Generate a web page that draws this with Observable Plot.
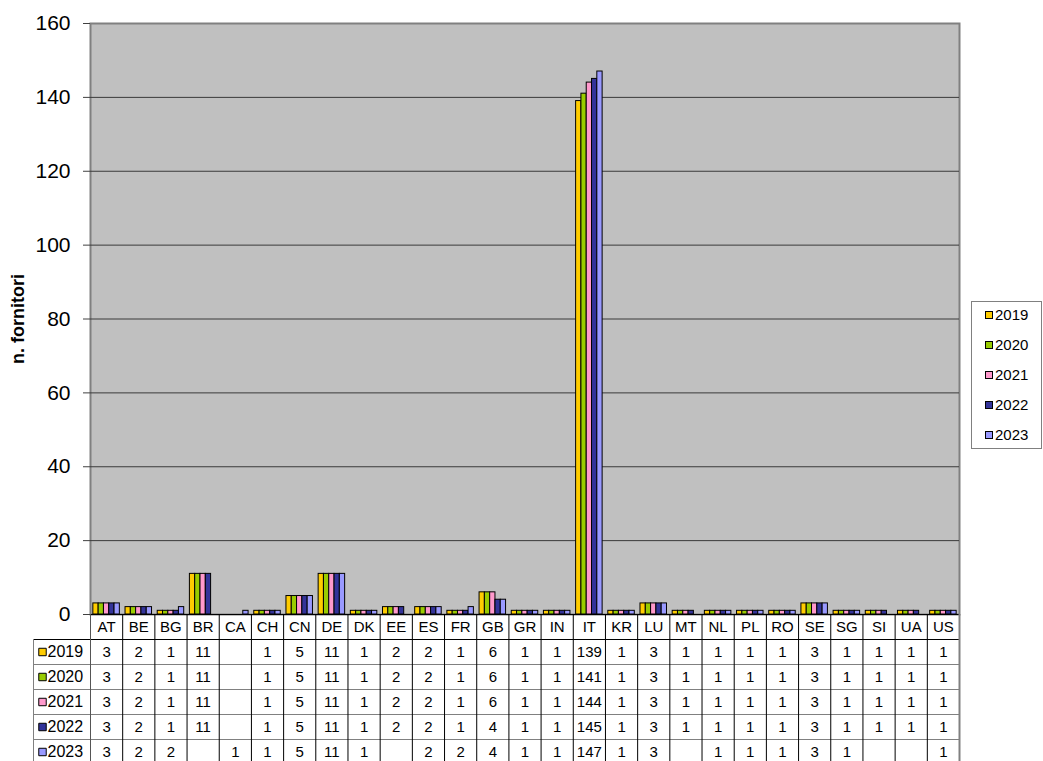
<!DOCTYPE html>
<html>
<head>
<meta charset="utf-8">
<script src="https://cdn.jsdelivr.net/npm/d3@7"></script>
<script src="https://cdn.jsdelivr.net/npm/@observablehq/plot@0.6"></script>
<style>
  body { margin: 0; background: #fff; font-family: "Liberation Sans", Arial, sans-serif; }
  #chart { position: relative; width: 1043px; height: 761px; overflow: hidden; background: #fff; }
  #chart svg { position: absolute; left: 0; }
  .legend { position: absolute; left: 971px; top: 301px; width: 71px; height: 148px;
            border: 1px solid #808080; box-sizing: border-box; background: #fff; }
  .legend .item { position: absolute; left: 13px; font-size: 15px; line-height: 16px;
                  display: flex; align-items: center; color: #000; }
  .legend .sw { width: 6px; height: 6px; border: 1px solid #000; margin-right: 2px; }
</style>
</head>
<body>
<div id="chart"></div>
<script>
// Suppliers ("fornitori") per country, 2019–2023
const countries = ["AT","BE","BG","BR","CA","CH","CN","DE","DK","EE","ES","FR","GB","GR","IN","IT","KR","LU","MT","NL","PL","RO","SE","SG","SI","UA","US"];
const years = ["2019", "2020", "2021", "2022", "2023"];
const s2019 = [3,2,1,11,null,1,5,11,1,2,2,1,6,1,1,139,1,3,1,1,1,1,3,1,1,1,1];
const s2020 = [3,2,1,11,null,1,5,11,1,2,2,1,6,1,1,141,1,3,1,1,1,1,3,1,1,1,1];
const s2021 = [3,2,1,11,null,1,5,11,1,2,2,1,6,1,1,144,1,3,1,1,1,1,3,1,1,1,1];
const s2022 = [3,2,1,11,null,1,5,11,1,2,2,1,4,1,1,145,1,3,1,1,1,1,3,1,1,1,1];
const s2023 = [3,2,2,null,1,1,5,11,1,null,2,2,4,1,1,147,1,3,null,1,1,1,3,1,null,null,1];
const yTicks = [0, 20, 40, 60, 80, 100, 120, 140, 160];
const colors = ["#FFCC00", "#99CC00", "#FF99CC", "#333399", "#9999FF"];

const series = [s2019, s2020, s2021, s2022, s2023];
const rows = years.flatMap((year, k) =>
  countries.map((country, i) => ({country, idx: i, year, k, value: series[k][i]})));

const FONT = "Liberation Sans, Arial, sans-serif";
const W = 1043, ML = 90, MR = 84;
const bw = (W - ML - MR) / countries.length;   // column width
const groupW = 26.5, barW = groupW / years.length, off0 = (bw - groupW) / 2;
const chart = document.getElementById("chart");

// Column chart
const columnsPlot = Plot.plot({
  width: W, height: 630,
  marginTop: 23, marginBottom: 16, marginLeft: ML, marginRight: MR,
  style: {fontFamily: FONT, background: "transparent", color: "#000"},
  x: {type: "band", domain: countries, padding: 0, round: false, axis: null},
  y: {domain: [0, 160]},
  marks: [
    Plot.frame({fill: "#c0c0c0", stroke: "#808080", strokeWidth: 2}),
    Plot.ruleY(yTicks.filter(t => t > 0 && t < 160), {stroke: "#3a3a3a", strokeWidth: 1}),
    ...years.map((year, k) => Plot.barY(rows.filter(d => d.k === k && d.value != null), {
      x: "country", y: "value", fill: colors[k], stroke: "#000", strokeWidth: 1,
      insetLeft: off0 + k * barW, insetRight: bw - off0 - (k + 1) * barW
    })),
    Plot.ruleY([0], {stroke: "#000", strokeWidth: 1}),
    Plot.axisY({ticks: yTicks, tickSize: 7, tickPadding: 13, fontSize: 21, label: null, stroke: "#404040"}),
    Plot.text(["n. fornitori"], {frameAnchor: "left", textAnchor: "middle", dx: -72, rotate: -90,
      fontWeight: "bold", fontSize: 18, fill: "#000"})
  ]
});
columnsPlot.style.top = "0px";
chart.appendChild(columnsPlot);

// Data table under the columns
const hdr = (ML - 33) / bw;  // width of the row-header column, in column units
const colIdx = countries.map((c, i) => i);
const tablePlot = Plot.plot({
  width: W, height: 147,
  marginTop: 0, marginBottom: 0, marginLeft: 33, marginRight: MR,
  style: {fontFamily: FONT, background: "transparent", color: "#000"},
  x: {type: "linear", domain: [-hdr, countries.length], axis: null},
  y: {type: "linear", domain: [0, years.length + 1], range: [0, 150], axis: null},
  marks: [
    // horizontal row separators
    Plot.ruleY(years.slice(1).map((y, k) => k + 2), {x1: -hdr, x2: countries.length, stroke: "#808080"}),
    Plot.ruleY([1], {x1: -hdr, x2: countries.length, stroke: "#000"}),
    // vertical column separators
    Plot.ruleX(colIdx.slice(1), {y1: 0, y2: years.length + 1, stroke: "#000"}),
    Plot.ruleX([0], {y1: 0, y2: years.length + 1, stroke: "#555"}),
    Plot.ruleX([countries.length], {y1: 0, y2: years.length + 1, stroke: "#808080", strokeWidth: 2}),
    Plot.ruleX([-hdr], {y1: 1, y2: years.length + 1, stroke: "#808080"}),
    // country codes
    Plot.text(countries, {x: (d, i) => i + 0.5, y: 0.5, text: d => d, fontSize: 15, fill: "#000"}),
    // row headers: swatch + year
    Plot.dot(years, {x: () => -hdr, y: (d, k) => k + 1.5, dx: 9, symbol: "square", r: 4.2,
      fill: (d, k) => colors[k], stroke: "#000", strokeWidth: 1}),
    Plot.text(years, {x: () => -hdr, y: (d, k) => k + 1.5, dx: 14, text: d => d, textAnchor: "start", fontSize: 16, fill: "#000"}),
    // values
    Plot.text(rows.filter(d => d.value != null), {
      x: d => d.idx + 0.5, y: d => d.k + 1.5, text: d => String(d.value), fontSize: 15, fill: "#000"
    })
  ]
});
tablePlot.style.top = "614px";
chart.appendChild(tablePlot);

// Legend
const legend = document.createElement("div");
legend.className = "legend";
years.forEach((year, k) => {
  const item = document.createElement("div");
  item.className = "item";
  item.style.top = (5 + k * 30) + "px";
  const sw = document.createElement("span");
  sw.className = "sw";
  sw.style.background = colors[k];
  item.appendChild(sw);
  item.appendChild(document.createTextNode(year));
  legend.appendChild(item);
});
chart.appendChild(legend);
</script>
</body>
</html>
